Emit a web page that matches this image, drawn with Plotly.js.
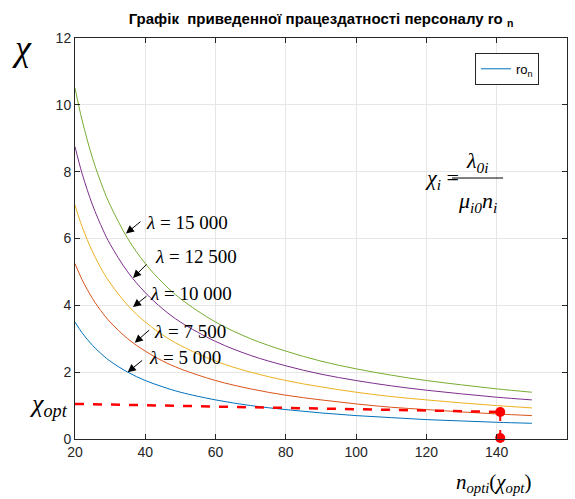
<!DOCTYPE html>
<html>
<head>
<meta charset="utf-8">
<script src="https://cdn.plot.ly/plotly-3.0.1.min.js"></script>
</head>
<body style="margin:0;background:#fff">
<div id="chart" style="width:575px;height:499px"></div>
<script>
// n values (x axis)
const nVals = [20, 22, 25, 28, 30, 35, 40, 45, 50, 60, 70, 80, 90, 100, 110, 120, 130, 140, 150];
// chi curves for each lambda
const chi5000  = [3.50, 3.18, 2.80, 2.50, 2.33, 2.00, 1.75, 1.56, 1.40, 1.17, 1.00, 0.88, 0.78, 0.70, 0.64, 0.58, 0.54, 0.50, 0.47];
const chi7500  = [5.25, 4.77, 4.20, 3.75, 3.50, 3.00, 2.63, 2.33, 2.10, 1.75, 1.50, 1.31, 1.17, 1.05, 0.95, 0.88, 0.81, 0.75, 0.70];
const chi10000 = [7.00, 6.36, 5.60, 5.00, 4.67, 4.00, 3.50, 3.11, 2.80, 2.33, 2.00, 1.75, 1.56, 1.40, 1.27, 1.17, 1.08, 1.00, 0.93];
const chi12500 = [8.75, 7.95, 7.00, 6.25, 5.83, 5.00, 4.38, 3.89, 3.50, 2.92, 2.50, 2.19, 1.94, 1.75, 1.59, 1.46, 1.35, 1.25, 1.17];
const chi15000 = [10.50, 9.55, 8.40, 7.50, 7.00, 6.00, 5.25, 4.67, 4.20, 3.50, 3.00, 2.63, 2.33, 2.10, 1.91, 1.75, 1.62, 1.50, 1.40];
// optimum marker line
const optLineX = [20, 141];
const optLineY = [1.05, 0.81];
const optDropX = [141, 141];
const optDropY = [0.81, 0.03];
// labels
const lambdaLabels = ['<i>λ</i> = 15 000', '<i>λ</i> = 12 500', '<i>λ</i> = 10 000', '<i>λ</i> = 7 500', '<i>λ</i> = 5 000'];
const xTicks = [20, 40, 60, 80, 100, 120, 140, 160];
const yTicks = [0, 2, 4, 6, 8, 10, 12];

const SERIF = 'Liberation Serif';
const SANS = 'Liberation Sans';

function curve(y, color, name, show) {
  return {x: nVals, y: y, type: 'scatter', mode: 'lines', name: name, showlegend: show,
          line: {color: color, width: 1, shape: 'spline'}};
}

const traces = [
  curve(chi5000, '#0072BD', 'ro<sub>n</sub>', true),
  curve(chi7500, '#D95319', 'λ=7500', false),
  curve(chi10000, '#EDB120', 'λ=10000', false),
  curve(chi12500, '#7E2F8E', 'λ=12500', false),
  curve(chi15000, '#77AC30', 'λ=15000', false),
  {x: optLineX, y: optLineY, type: 'scatter', mode: 'lines', showlegend: false,
   line: {color: '#ff0000', width: 2.5, dash: 'dash'}},
  {x: optDropX, y: optDropY, type: 'scatter', mode: 'lines+markers', showlegend: false, cliponaxis: false,
   line: {color: '#ff0000', width: 2, dash: 'dash'},
   marker: {color: '#ff0000', size: 10}}
];

// arrow heads (data) and offsets
const arrowHeads = [[34.5, 6.15], [36.5, 4.82], [36.5, 3.95], [37, 2.88], [35, 2.0]];
const arrowOff = [[16, -13], [15, -15], [15, -12], [16, -14], [16, -13]];
const labelPos = [[39.6, 6.47], [42.3, 5.45], [40.9, 4.34], [42.0, 3.23], [40.6, 2.43]];

const annotations = [];
for (let i = 0; i < lambdaLabels.length; i++) {
  annotations.push({x: arrowHeads[i][0], y: arrowHeads[i][1], xref: 'x', yref: 'y', text: '',
    showarrow: true, ax: arrowOff[i][0], ay: arrowOff[i][1], arrowhead: 2, arrowsize: 1.6,
    arrowwidth: 1, arrowcolor: '#000', standoff: 0});
  annotations.push({x: labelPos[i][0], y: labelPos[i][1], xref: 'x', yref: 'y', text: lambdaLabels[i],
    showarrow: false, xanchor: 'left', yanchor: 'middle',
    font: {family: SERIF, size: 19, color: '#000'}});
}
// formula
annotations.push({x: 129.8, y: 7.78, xref: 'x', yref: 'y', text: '<i>χ<sub>i</sub></i> =', showarrow: false,
  xanchor: 'right', yanchor: 'middle', font: {family: SERIF, size: 22, color: '#000'}});
annotations.push({x: 134.6, y: 8.3, xref: 'x', yref: 'y', text: '<i>λ<sub>0i</sub></i>', showarrow: false,
  xanchor: 'center', yanchor: 'middle', font: {family: SERIF, size: 22, color: '#000'}});
annotations.push({x: 134.6, y: 7.1, xref: 'x', yref: 'y', text: '<i>μ<sub>i0</sub>n<sub>i</sub></i>', showarrow: false,
  xanchor: 'center', yanchor: 'middle', font: {family: SERIF, size: 22, color: '#000'}});
// axis labels
annotations.push({x: -0.108, y: 0.975, xref: 'paper', yref: 'paper', text: '<i>χ</i>', showarrow: false,
  xanchor: 'center', yanchor: 'middle', font: {family: SERIF, size: 36, color: '#000'}});
annotations.push({x: -0.053, y: 0.085, xref: 'paper', yref: 'paper', text: '<i>χ<sub>opt</sub></i>', showarrow: false,
  xanchor: 'center', yanchor: 'middle', font: {family: SERIF, size: 26, color: '#000'}});
annotations.push({x: 0.85, y: -0.11, xref: 'paper', yref: 'paper', text: '<i>n<sub>opti</sub></i>(<i>χ<sub>opt</sub></i>)', showarrow: false,
  xanchor: 'center', yanchor: 'middle', font: {family: SERIF, size: 21, color: '#000'}});

const axisCommon = {
  showline: true, linecolor: '#262626', linewidth: 1, mirror: 'ticks',
  ticks: 'inside', ticklen: 5, tickcolor: '#262626',
  showgrid: true, gridcolor: '#e6e6e6', zeroline: false,
  tickfont: {family: SANS, size: 14, color: '#262626'}
};

const layout = {
  width: 575, height: 499,
  margin: {l: 75, r: 8, t: 38, b: 60},
  font: {family: SANS, size: 14, color: '#000'},
  paper_bgcolor: '#fff', plot_bgcolor: '#fff',
  title: {text: '<b>Графік  приведенної працездатності персоналу ro <sub>n</sub></b>', xref: 'paper', x: 0.5,
    yref: 'container', y: 0.962, yanchor: 'middle', font: {family: SANS, size: 15, color: '#000'}},
  xaxis: Object.assign({}, axisCommon, {range: [20, 160], tickvals: xTicks, ticktext: xTicks.map(String)}),
  yaxis: Object.assign({}, axisCommon, {range: [0, 12], tickvals: yTicks, ticktext: yTicks.map(String)}),
  showlegend: true,
  legend: {x: 0.813, y: 0.963, xanchor: 'left', yanchor: 'top', bgcolor: '#fff', bordercolor: '#262626', borderwidth: 1,
    font: {family: SANS, size: 13, color: '#000'}},
  shapes: [{type: 'line', xref: 'x', yref: 'y', x0: 127.3, x1: 141.8, y0: 7.81, y1: 7.81, line: {color: '#000', width: 1}}],
  annotations: annotations
};

Plotly.newPlot('chart', traces, layout, {displayModeBar: false});
</script>
</body>
</html>
